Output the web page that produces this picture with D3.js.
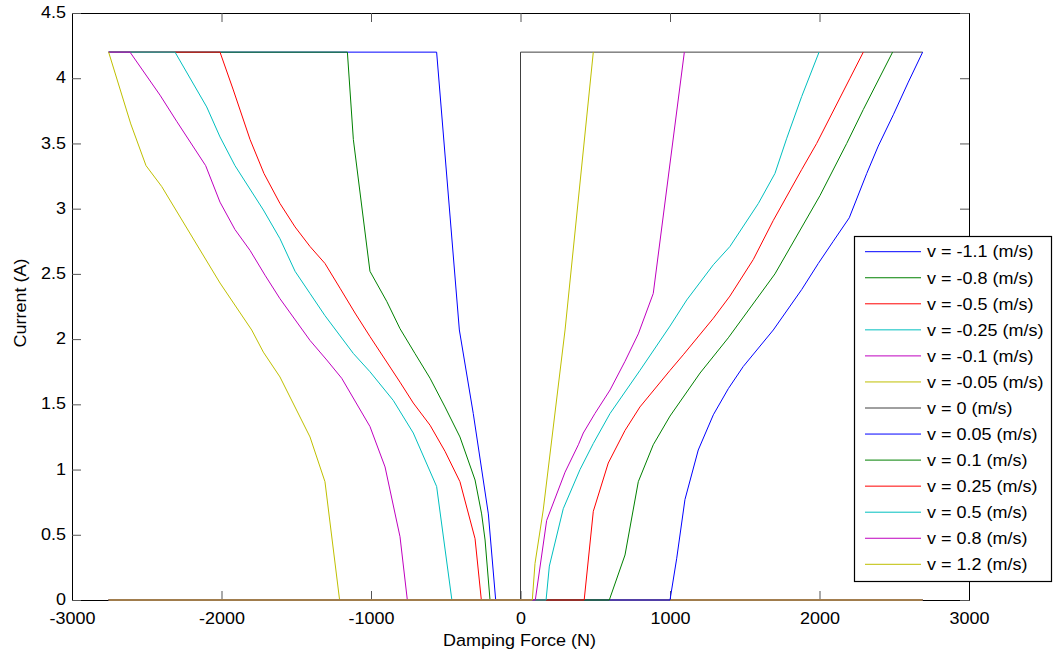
<!DOCTYPE html>
<html>
<head>
<meta charset="utf-8">
<script src="https://cdn.jsdelivr.net/npm/d3@7"></script>
<style>
  html, body { margin: 0; padding: 0; background: #fff; }
  svg { display: block; font-family: "Liberation Sans", Arial, sans-serif; }
</style>
</head>
<body>
<svg id="chart" width="1053" height="656"></svg>
<script>
// ---------------- data ----------------
const velocityLabels = ["-1.1", "-0.8", "-0.5", "-0.25", "-0.1", "-0.05", "0", "0.05", "0.1", "0.25", "0.5", "0.8", "1.2"];

const xTickValues = [-3000, -2000, -1000, 0, 1000, 2000, 3000];
const xTickLabels = ["-3000", "-2000", "-1000", "0", "1000", "2000", "3000"];
const yTickValues = [0, 0.5, 1, 1.5, 2, 2.5, 3, 3.5, 4, 4.5];
const yTickLabels = ["0", "0.5", "1", "1.5", "2", "2.5", "3", "3.5", "4", "4.5"];

// [damping force (N), current (A)]
const vNeg1_1 = [[-2755, 4.2], [-561, 4.2], [-409, 2.07], [-316, 1.43], [-215, 0.66], [-166, 0], [2690, 0]];
const vNeg0_8 = [[-2755, 4.2], [-1158, 4.2], [-1118, 3.53], [-1007, 2.52], [-895, 2.29], [-806, 2.08], [-706, 1.89], [-605, 1.70], [-505, 1.48], [-405, 1.25], [-304, 0.92], [-260, 0.66], [-237, 0.46], [-204, 0], [2690, 0]];
const vNeg0_5 = [[-2755, 4.2], [-2010, 4.2], [-1921, 3.91], [-1809, 3.53], [-1716, 3.27], [-1609, 3.04], [-1508, 2.86], [-1408, 2.71], [-1308, 2.58], [-1207, 2.39], [-1107, 2.20], [-1007, 2.02], [-806, 1.67], [-717, 1.51], [-605, 1.34], [-505, 1.14], [-405, 0.907], [-304, 0.47], [-262, 0], [2690, 0]];
const vNeg0_25 = [[-2755, 4.2], [-2311, 4.2], [-2099, 3.78], [-2010, 3.55], [-1910, 3.33], [-1720, 2.99], [-1609, 2.77], [-1508, 2.52], [-1408, 2.35], [-1308, 2.18], [-1118, 1.89], [-1007, 1.75], [-851, 1.53], [-717, 1.28], [-561, 0.87], [-459, 0], [2690, 0]];
const vNeg0_1 = [[-2755, 4.2], [-2612, 4.2], [-2411, 3.87], [-2300, 3.67], [-2106, 3.33], [-2010, 3.05], [-1910, 2.84], [-1809, 2.68], [-1709, 2.49], [-1609, 2.31], [-1408, 1.99], [-1296, 1.84], [-1196, 1.70], [-1007, 1.33], [-906, 1.02], [-806, 0.485], [-757, 0], [2690, 0]];
const vNeg0_05 = [[-2755, 4.2], [-2607, 3.65], [-2505, 3.33], [-2400, 3.17], [-2010, 2.43], [-1798, 2.07], [-1720, 1.90], [-1609, 1.71], [-1408, 1.25], [-1308, 0.907], [-1210, 0], [2690, 0]];
const vZero = [[-2755, 0], [0, 0], [0, 4.2], [2690, 4.2]];
const vPos0_05 = [[-2755, 0], [1000, 0], [1045, 0.32], [1100, 0.77], [1189, 1.15], [1290, 1.42], [1390, 1.62], [1490, 1.79], [1691, 2.07], [1881, 2.38], [1992, 2.58], [2092, 2.75], [2199, 2.93], [2316, 3.27], [2393, 3.48], [2494, 3.72], [2594, 3.97], [2690, 4.2]];
const vPos0_1 = [[-2755, 0], [594, 0], [699, 0.345], [788, 0.907], [888, 1.19], [1000, 1.41], [1201, 1.74], [1390, 2.01], [1702, 2.50], [2003, 3.10], [2182, 3.50], [2293, 3.76], [2489, 4.2]];
const vPos0_25 = [[-2755, 0], [426, 0], [487, 0.68], [587, 1.05], [699, 1.30], [799, 1.48], [1000, 1.76], [1089, 1.88], [1290, 2.16], [1401, 2.33], [1557, 2.61], [1691, 2.91], [1881, 3.30], [1981, 3.50], [2204, 4.00], [2293, 4.2]];
const vPos0_5 = [[-2755, 0], [171, 0], [193, 0.26], [286, 0.70], [398, 1.00], [487, 1.20], [599, 1.43], [799, 1.76], [1000, 2.10], [1112, 2.30], [1290, 2.57], [1401, 2.71], [1591, 3.04], [1702, 3.27], [1781, 3.54], [1881, 3.86], [1997, 4.2]];
const vPos0_8 = [[-2755, 0], [99, 0], [175, 0.61], [298, 0.98], [387, 1.19], [420, 1.28], [498, 1.43], [599, 1.61], [699, 1.83], [788, 2.04], [888, 2.35], [1096, 4.2]];
const vPos1_2 = [[-2755, 0], [79, 0], [97, 0.28], [152, 0.69], [298, 2.07], [487, 4.2]];

const seriesData = [vNeg1_1, vNeg0_8, vNeg0_5, vNeg0_25, vNeg0_1, vNeg0_05, vZero, vPos0_05, vPos0_1, vPos0_25, vPos0_5, vPos0_8, vPos1_2];

// ---------------- styles ----------------
const colorCycle = ["#0000ff", "#008000", "#ff0000", "#00bfbf", "#bf00bf", "#bfbf00", "#404040"];
const stretch = 1.09;

// ---------------- layout ----------------
const svg = d3.select("#chart");
const plot = { left: 72, right: 969, top: 13, bottom: 600 };

const x = d3.scaleLinear().domain([-3000, 3000]).range([plot.left, plot.right]);
const y = d3.scaleLinear().domain([0, 4.5]).range([plot.bottom, plot.top]);

const tickLen = 9;
const fontSize = 16.5;

// Axes
const gBottom = svg.append("g").attr("transform", `translate(0,${plot.bottom})`)
  .call(d3.axisBottom(x).tickValues(xTickValues).tickFormat((d, i) => xTickLabels[i])
    .tickSizeInner(-tickLen).tickSizeOuter(0).tickPadding(12));
const gTop = svg.append("g").attr("transform", `translate(0,${plot.top})`)
  .call(d3.axisTop(x).tickValues(xTickValues).tickFormat("")
    .tickSizeInner(-tickLen).tickSizeOuter(0));
const gLeft = svg.append("g").attr("transform", `translate(${plot.left},0)`)
  .call(d3.axisLeft(y).tickValues(yTickValues).tickFormat((d, i) => yTickLabels[i])
    .tickSizeInner(-tickLen).tickSizeOuter(0).tickPadding(6 / stretch));
const gRight = svg.append("g").attr("transform", `translate(${plot.right},0)`)
  .call(d3.axisRight(y).tickValues(yTickValues).tickFormat("")
    .tickSizeInner(-tickLen).tickSizeOuter(0));

[gBottom, gTop, gLeft, gRight].forEach(g => {
  g.select(".domain").attr("stroke", "#000").attr("stroke-width", 1);
  g.selectAll(".tick line").attr("stroke", "#555").attr("stroke-width", 1);
  g.selectAll(".tick text")
    .attr("fill", "#000")
    .attr("font-size", fontSize)
    .attr("font-family", '"Liberation Sans", Arial, sans-serif')
    .attr("transform", `scale(${stretch},1)`);
});
// nudge the "0" y label up slightly so it clears the x labels
gLeft.selectAll(".tick text").attr("dy", "0.28em");

// Axis titles
svg.append("text")
  .attr("transform", `translate(${(plot.left + plot.right) / 2 - 1},646) scale(${stretch},1)`)
  .attr("text-anchor", "middle")
  .attr("font-size", fontSize)
  .text("Damping Force (N)");

svg.append("text")
  .attr("transform", `translate(26,303) rotate(-90) scale(${stretch},1)`)
  .attr("text-anchor", "middle")
  .attr("font-size", fontSize)
  .text("Current (A)");

// Curves
const line = d3.line().x(d => x(d[0])).y(d => y(d[1]));
svg.append("g").selectAll("path")
  .data(seriesData)
  .join("path")
  .attr("d", d => line(d))
  .attr("fill", "none")
  .attr("stroke", (d, i) => colorCycle[i % colorCycle.length])
  .attr("stroke-width", 1);

// Legend
const legend = { x: 854.5, y: 236.5, w: 197, h: 345, rowTop: 251.7, rowStep: 26.05 };
const gLegend = svg.append("g");
gLegend.append("rect")
  .attr("x", legend.x).attr("y", legend.y)
  .attr("width", legend.w).attr("height", legend.h)
  .attr("fill", "#fff").attr("stroke", "#000").attr("stroke-width", 1.2);

const rows = gLegend.selectAll("g.row")
  .data(velocityLabels)
  .join("g")
  .attr("class", "row")
  .attr("transform", (d, i) => `translate(0,${legend.rowTop + i * legend.rowStep})`);

rows.append("line")
  .attr("x1", 865).attr("x2", 921)
  .attr("y1", 0).attr("y2", 0)
  .attr("stroke", (d, i) => colorCycle[i % colorCycle.length])
  .attr("stroke-width", 1);

rows.append("text")
  .attr("transform", `translate(927,0) scale(${stretch},1)`)
  .attr("dy", "0.35em")
  .attr("font-size", fontSize)
  .attr("fill", "#000")
  .text(d => `v = ${d} (m/s)`);
</script>
</body>
</html>
